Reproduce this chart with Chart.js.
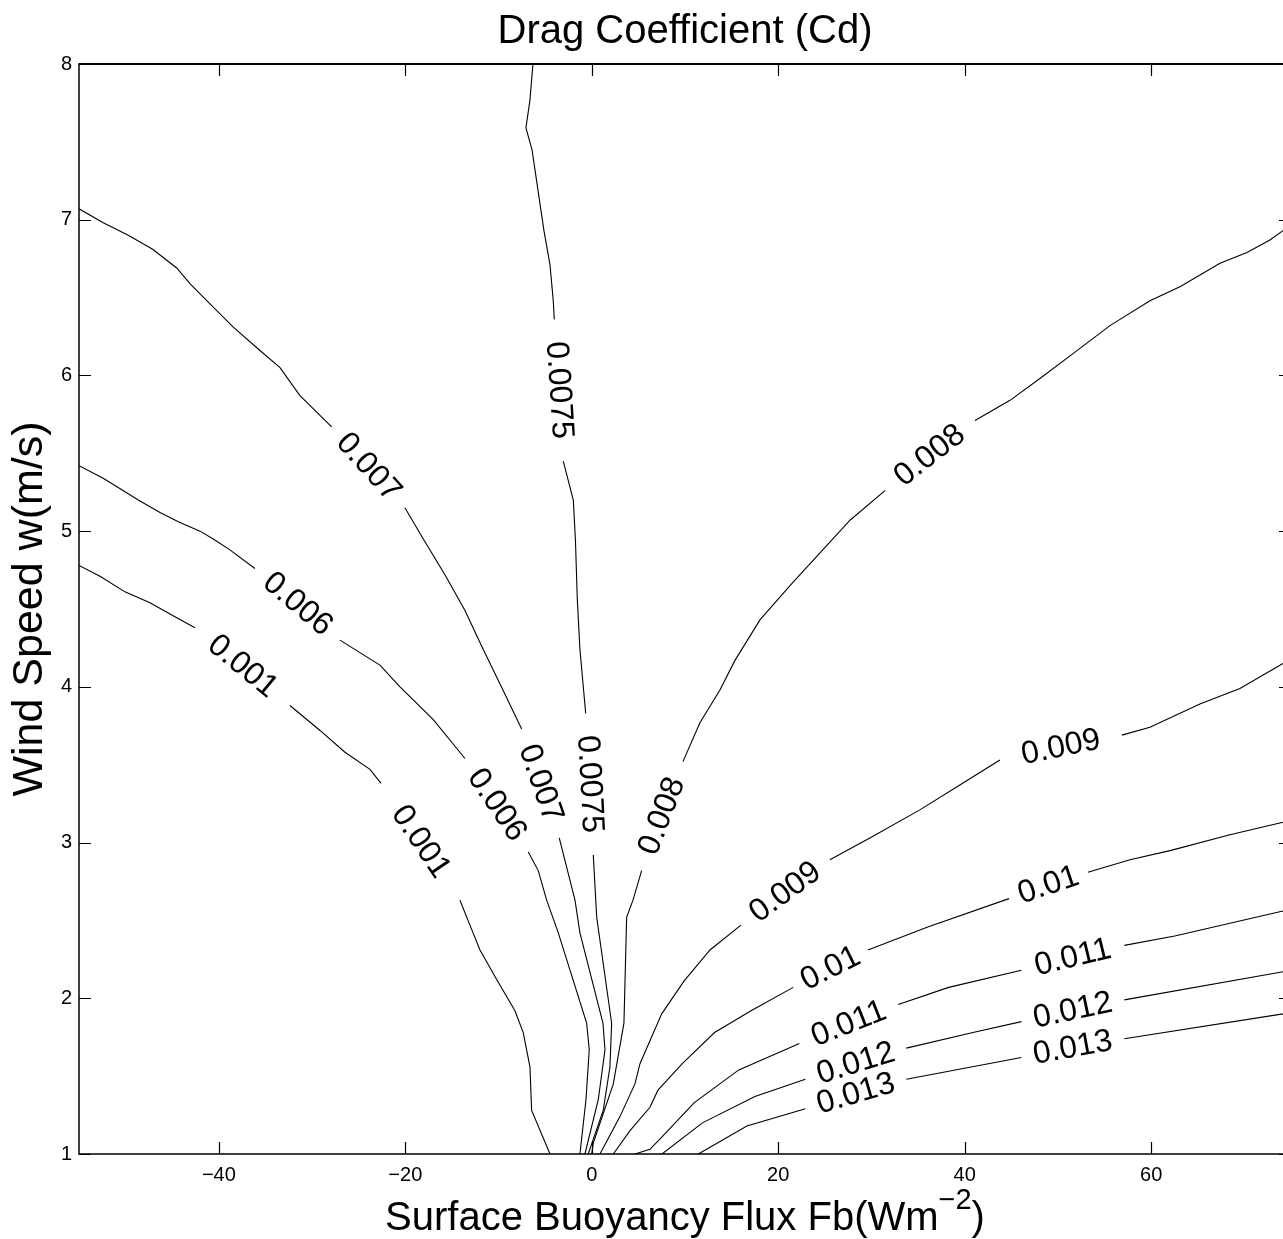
<!DOCTYPE html>
<html>
<head>
<meta charset="utf-8">
<title>Drag Coefficient (Cd)</title>
<script src="https://cdn.jsdelivr.net/npm/chart.js@4.4.1/dist/chart.umd.min.js"></script>
<style>
  html, body { margin: 0; padding: 0; background: #fff; overflow: hidden; }
  #wrap { width: 1300px; height: 1239px; }
</style>
</head>
<body>
<div id="wrap"><canvas id="cdChart" width="1300" height="1239"></canvas></div>
<script>
const FONT = '"Liberation Sans", Arial, Helvetica, sans-serif';

const levels = ['0.001', '0.006', '0.007', '0.0075', '0.008', '0.009', '0.01', '0.011', '0.012', '0.013'];
const xTicks = [-40, -20, 0, 20, 40, 60];
const yTicks = [1, 2, 3, 4, 5, 6, 7, 8];

// contour paths, null = gap where the label sits
const c001X = [-55, -52.75, -50.07, -47.39, -44.71, -42.56, null, -32.37, -29.15, -26.47, -23.79, -22.6, null, -14.14, -13.07, -11.99, -10.2, -8.24, -7.35, -6.63, -6.45, -4.48];
const c001Y = [4.78, 4.71, 4.61, 4.54, 4.45, 4.38, null, 3.88, 3.72, 3.58, 3.47, 3.38, null, 2.63, 2.47, 2.31, 2.12, 1.92, 1.78, 1.56, 1.28, 1.0];

const c006X = [-55, -52.4, -49.72, -48.64, -46.31, -44.35, -42.02, -40.6, -38.81, -36.13, null, -27.01, -22.72, -20.57, -17.0, -13.6, null, -6.81, -5.74, -4.84, -3.59, -0.55, -0.27, -0.62, -1.27];
const c006Y = [5.42, 5.34, 5.24, 5.2, 5.12, 5.06, 5.0, 4.95, 4.88, 4.76, null, 4.3, 4.14, 4.0, 3.79, 3.54, null, 2.94, 2.82, 2.63, 2.42, 1.84, 1.67, 1.35, 1.0];

const c007X = [-55, -52.4, -49.72, -47.1, -44.52, -43.1, -40.95, -38.45, -35.59, -33.44, -31.3, -27.9, null, -20.04, -18.07, -15.75, -13.6, -11.64, -9.85, -7.52, null, -3.49, -1.8, -1.27, 1.2, 1.42, 0.7, -0.73];
const c007Y = [7.07, 6.98, 6.9, 6.81, 6.69, 6.59, 6.46, 6.31, 6.16, 6.05, 5.87, 5.67, null, 5.15, 4.95, 4.72, 4.49, 4.24, 4.02, 3.73, null, 3.03, 2.63, 2.42, 1.84, 1.67, 1.35, 1.0];

const c0075X = [-6.31, -6.63, -7.06, -6.41, -5.77, -5.13, -4.48, -4.13, -4.02, null, -3.06, -1.98, -1.75, -1.55, -1.27, -0.65, null, 0.16, 0.53, 2.13, 1.95, 1.23, -0.38];
const c0075Y = [8.0, 7.77, 7.59, 7.45, 7.19, 6.93, 6.71, 6.48, 6.36, null, 5.45, 5.2, 4.94, 4.56, 4.24, 3.83, null, 2.92, 2.52, 1.84, 1.56, 1.28, 1.0];

const c008X = [-0.01, 0.16, 2.31, 3.45, 3.74, 4.42, 5.35, null, 9.78, 11.6, 13.75, 15.36, 18.04, 21.26, 24.48, 27.7, 31.45, null, 41.1, 44.86, 48.07, 51.83, 55.58, 59.87, 63.09, 67.38, 70.28, 72.74, 74.14, 75];
const c008Y = [1.0, 1.07, 1.45, 1.84, 2.52, 2.63, 2.82, null, 3.52, 3.77, 3.98, 4.17, 4.43, 4.65, 4.86, 5.07, 5.26, null, 5.71, 5.84, 5.98, 6.15, 6.32, 6.48, 6.57, 6.72, 6.79, 6.87, 6.93, 6.99];

const c009X = [0.88, 3.02, 4.63, 5.17, 7.5, 9.89, 12.68, 16.0, null, 25.54, 29.83, 35.19, 39.48, 43.78, null, 56.86, 59.87, 65.23, 69.52, 74.14, 75];
const c009Y = [1.0, 1.24, 1.45, 1.58, 1.9, 2.11, 2.31, 2.47, null, 2.89, 3.03, 3.21, 3.37, 3.53, null, 3.69, 3.74, 3.89, 3.99, 4.15, 4.17];

const c010X = [2.31, 4.1, 6.24, 7.1, 9.71, 13.17, 17.08, 21.61, null, 29.62, 36.11, 44.75, null, 53.22, 57.73, 62.13, 68.45, 74.14, 75];
const c010Y = [1.0, 1.15, 1.3, 1.41, 1.58, 1.78, 1.92, 2.07, null, 2.31, 2.46, 2.64, null, 2.81, 2.89, 2.95, 3.05, 3.13, 3.15];

const c011X = [4.63, 6.24, 7.53, 11.0, 15.77, 22.27, null, 32.87, 38.28, 46.08, null, 57.12, 62.53, 74.14, 75];
const c011Y = [1.0, 1.03, 1.11, 1.33, 1.54, 1.71, null, 1.96, 2.07, 2.18, null, 2.34, 2.4, 2.56, 2.57];

const c012X = [7.53, 11.87, 17.5, 22.91, null, 33.74, 40.89, 46.08, null, 57.12, 74.14, 75];
const c012Y = [1.0, 1.2, 1.37, 1.48, null, 1.68, 1.78, 1.85, null, 1.99, 2.17, 2.18];

const c013X = [11.43, 16.64, 22.91, null, 33.74, 46.08, null, 57.12, 74.14, 75];
const c013Y = [1.0, 1.18, 1.29, null, 1.48, 1.62, null, 1.74, 1.9, 1.91];

const paths = [
  [c001X, c001Y], [c006X, c006Y], [c007X, c007Y], [c0075X, c0075Y], [c008X, c008Y],
  [c009X, c009Y], [c010X, c010Y], [c011X, c011Y], [c012X, c012Y], [c013X, c013Y],
];

const datasets = paths.map(([xs, ys], i) => ({
  label: levels[i],
  data: xs.map((x, k) => ({ x, y: ys[k] })),
  borderColor: '#000',
  borderWidth: 1.1,
  pointRadius: 0,
  tension: 0,
  fill: false,
  spanGaps: false,
}));

// inline contour labels, centred in each gap and turned along the line
const contourLabels = {
  id: 'contourLabels',
  afterDatasetsDraw(chart) {
    const { ctx } = chart;
    const xs = chart.scales.x;
    const ys = chart.scales.y;
    ctx.save();
    ctx.font = `32px ${FONT}`;
    ctx.fillStyle = '#000';
    ctx.textAlign = 'center';
    ctx.textBaseline = 'middle';
    chart.data.datasets.forEach((ds) => {
      const pts = ds.data;
      for (let i = 1; i < pts.length - 1; i += 1) {
        if (pts[i].y !== null) continue;
        const ax = xs.getPixelForValue(pts[i - 1].x);
        const ay = ys.getPixelForValue(pts[i - 1].y);
        const bx = xs.getPixelForValue(pts[i + 1].x);
        const by = ys.getPixelForValue(pts[i + 1].y);
        ctx.save();
        ctx.translate((ax + bx) / 2, (ay + by) / 2);
        ctx.rotate(Math.atan2(by - ay, bx - ax));
        ctx.fillText(ds.label, 0, 0);
        ctx.restore();
      }
    });
    ctx.restore();
  },
};

// box, inward ticks and the x title with its superscript
const frameAndTicks = {
  id: 'frameAndTicks',
  afterDraw(chart) {
    const { ctx, chartArea } = chart;
    const { left, right, top, bottom } = chartArea;
    const xs = chart.scales.x;
    const ys = chart.scales.y;
    ctx.save();
    ctx.strokeStyle = '#000';
    ctx.lineWidth = 1.5;
    ctx.strokeRect(left, top, right - left, bottom - top);
    ctx.lineWidth = 2;
    ctx.beginPath();
    ctx.moveTo(left, top);
    ctx.lineTo(right, top);
    ctx.stroke();

    ctx.lineWidth = 1.2;
    ctx.beginPath();
    xTicks.forEach((v) => {
      const px = Math.round(xs.getPixelForValue(v)) + 0.5;
      ctx.moveTo(px, bottom);
      ctx.lineTo(px, bottom - 12);
      ctx.moveTo(px, top);
      ctx.lineTo(px, top + 12);
    });
    yTicks.forEach((v) => {
      const py = Math.round(ys.getPixelForValue(v)) + 0.5;
      ctx.moveTo(left, py);
      ctx.lineTo(left + 12, py);
      ctx.moveTo(right, py);
      ctx.lineTo(right - 12, py);
    });
    ctx.stroke();

    const main = 'Surface Buoyancy Flux Fb(Wm';
    const sup = '\u22122';
    const tail = ')';
    const bigFont = `40px ${FONT}`;
    const supFont = `29px ${FONT}`;
    ctx.fillStyle = '#000';
    ctx.textBaseline = 'alphabetic';
    ctx.textAlign = 'left';
    ctx.font = bigFont;
    const wMain = ctx.measureText(main).width;
    const wTail = ctx.measureText(tail).width;
    ctx.font = supFont;
    const wSup = ctx.measureText(sup).width;
    const cx = (left + right) / 2;
    let x0 = cx - (wMain + wSup + wTail) / 2;
    const base = 1230;
    ctx.font = bigFont;
    ctx.fillText(main, x0, base);
    x0 += wMain;
    ctx.font = supFont;
    ctx.fillText(sup, x0, base - 21);
    x0 += wSup;
    ctx.font = bigFont;
    ctx.fillText(tail, x0, base);
    ctx.restore();
  },
};

new Chart(document.getElementById('cdChart'), {
  type: 'line',
  data: { datasets },
  options: {
    responsive: false,
    animation: false,
    layout: { padding: { right: 9 } },
    plugins: {
      legend: { display: false },
      tooltip: { enabled: false },
      title: {
        display: true,
        fullSize: false,
        text: 'Drag Coefficient (Cd)',
        color: '#000',
        font: { family: FONT, size: 40, weight: 'normal' },
        padding: { top: 8, bottom: 8 },
      },
    },
    scales: {
      x: {
        type: 'linear',
        min: -55,
        max: 75,
        grid: { display: false, drawTicks: false },
        border: { display: false },
        afterBuildTicks: (scale) => {
          scale.ticks = xTicks.map((v) => ({ value: v }));
        },
        afterFit: (scale) => {
          scale.height = 85;
        },
        ticks: {
          color: '#000',
          padding: 9,
          font: { family: FONT, size: 20 },
          callback: (v) => (v < 0 ? '\u2212' + Math.abs(v) : String(v)),
        },
      },
      y: {
        type: 'linear',
        min: 1,
        max: 8,
        grid: { display: false, drawTicks: false },
        border: { display: false },
        afterBuildTicks: (scale) => {
          scale.ticks = yTicks.map((v) => ({ value: v }));
        },
        afterFit: (scale) => {
          scale.width = 79;
        },
        ticks: {
          color: '#000',
          padding: 7,
          font: { family: FONT, size: 20 },
        },
        title: {
          display: true,
          text: 'Wind Speed w(m/s)',
          color: '#000',
          font: { family: FONT, size: 43 },
          padding: { top: 4, bottom: 0 },
        },
      },
    },
  },
  plugins: [contourLabels, frameAndTicks],
});
</script>
</body>
</html>
